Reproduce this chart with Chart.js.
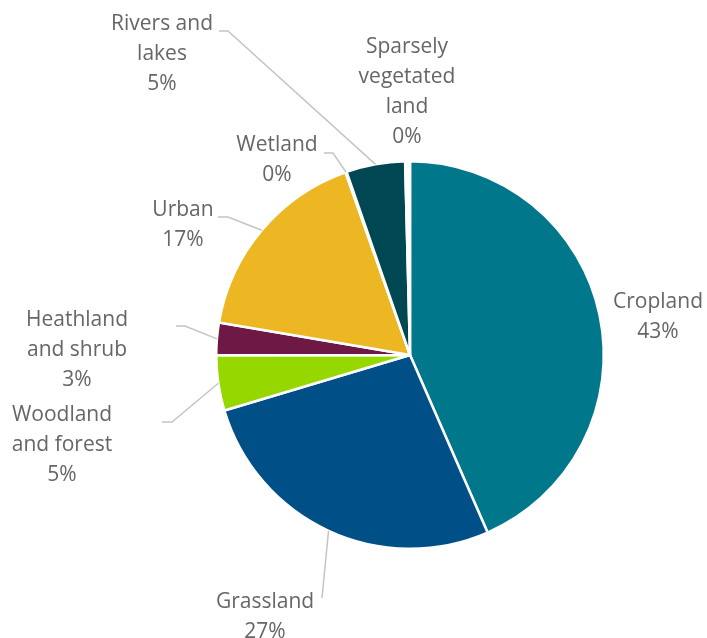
<!DOCTYPE html>
<html>
<head>
<meta charset="utf-8">
<script src="https://cdn.jsdelivr.net/npm/chart.js@4"></script>
<style>
  html, body { margin: 0; padding: 0; background: #fff; }
  #wrap { width: 707px; height: 638px; }
</style>
</head>
<body>
<div id="wrap"><canvas id="land-chart" width="707" height="638"></canvas></div>
<script>
// land cover shares, clockwise from 12 o'clock
const categories = [
    ['Cropland'],
    ['Grassland'],
    ['Woodland', 'and forest'],
    ['Heathland', 'and shrub'],
    ['Urban'],
    ['Wetland'],
    ['Rivers and', 'lakes'],
    ['Sparsely', 'vegetated', 'land']
]
const shares = [43.4, 26.9, 4.6, 2.7, 16.9, 0.1, 4.9, 0.4]
const colours = ['#00778b', '#004f87', '#97d700', '#6e1846', '#ecb723', '#f4f8f9', '#004754', '#ffffff']

// where each label sits: text centre x, first line y, and the connector tail
const labelLayout = [
    { x: 658, y: 302, line: null },
    { x: 265, y: 602, line: [[322, 598], [322, 598]] },
    { x: 62, y: 415, line: [[172, 422], [162, 422]] },
    { x: 77, y: 320, line: [[185, 326], [176, 326]] },
    { x: 183, y: 210, line: [[228, 217], [218, 217]] },
    { x: 277, y: 145, line: [[333, 153], [324, 153]] },
    { x: 162, y: 24, line: [[228, 31], [219, 31]] },
    { x: 407, y: 47, line: null }
]

const outsideLabels = {
    id: 'outsideLabels',
    afterDatasetsDraw(chart) {
        const ctx = chart.ctx
        const meta = chart.getDatasetMeta(0)
        const values = chart.data.datasets[0].data
        const total = values.reduce((a, b) => a + b, 0)
        ctx.save()
        meta.data.forEach((arc, i) => {
            const spot = labelLayout[i]
            const p = arc.getProps(['x', 'y', 'startAngle', 'endAngle', 'outerRadius'], true)
            const mid = (p.startAngle + p.endAngle) / 2
            if (spot.line) {
                ctx.strokeStyle = '#c4c4c4'
                ctx.lineWidth = 1.5
                ctx.beginPath()
                ctx.moveTo(p.x + Math.cos(mid) * p.outerRadius, p.y + Math.sin(mid) * p.outerRadius)
                spot.line.forEach(pt => ctx.lineTo(pt[0], pt[1]))
                ctx.stroke()
            }
            const lines = chart.data.labels[i].concat([Math.round(values[i] / total * 100) + '%'])
            ctx.fillStyle = '#666666'
            ctx.font = '21px "Open Sans"'
            ctx.textAlign = 'center'
            ctx.textBaseline = 'middle'
            lines.forEach((t, k) => ctx.fillText(t, spot.x, spot.y + k * 30))
        })
        ctx.restore()
    }
}

new Chart(document.getElementById('land-chart'), {
    type: 'pie',
    data: {
        labels: categories,
        datasets: [{
            data: shares,
            backgroundColor: colours,
            borderColor: '#ffffff',
            borderWidth: 2.5
        }]
    },
    options: {
        responsive: false,
        animation: false,
        layout: {
            padding: { left: 215, right: 102, top: 160, bottom: 88 }
        },
        plugins: {
            legend: { display: false },
            tooltip: { enabled: false }
        }
    },
    plugins: [outsideLabels]
})
</script>
</body>
</html>
